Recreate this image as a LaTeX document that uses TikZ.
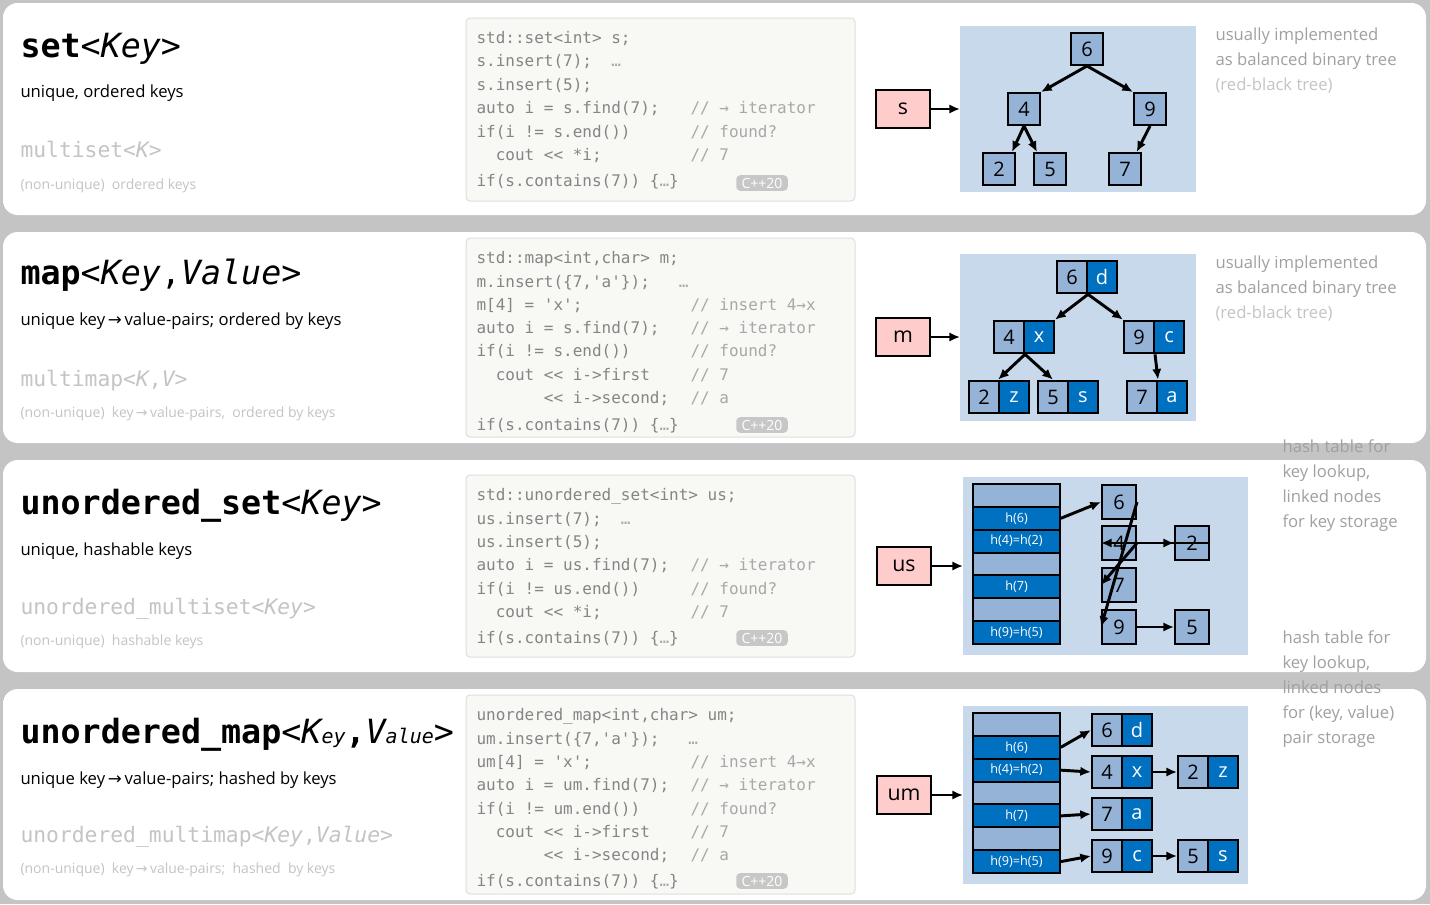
\documentclass[tikz,border=0pt]{standalone}
\usepackage{fontspec}
\setmainfont{Open Sans}
\setmonofont{DejaVu Sans Mono}
\newfontfamily\arrfont{DejaVu Sans}
\usetikzlibrary{positioning,arrows.meta}

\definecolor{pagegrey}{HTML}{C4C4C4}
\definecolor{codebg}{HTML}{F8F8F5}
\definecolor{codefg}{HTML}{858585}
\definecolor{cmtfg}{HTML}{A8A8A8}
\definecolor{treebg}{HTML}{C9D9EC}
\definecolor{keyfill}{HTML}{95B3D7}
\definecolor{valfill}{HTML}{0070C0}
\definecolor{ptrfill}{HTML}{FFCCCC}
\definecolor{notefg}{HTML}{A0A0A0}
\definecolor{faintfg}{HTML}{C4C4C4}

\newcommand\rarr{{\arrfont\char"2192}}

\tikzset{every picture/.style={line width=0.75pt}}
\tikzset{
  panel/.style={draw=none,fill=white,rounded corners=11pt},
  codebox/.style={draw=black!13,fill=codebg,rounded corners=3pt},
  code/.style={anchor=base west,inner sep=0pt,font=\ttfamily\fontsize{12}{14}\selectfont,text=codefg},
  cmt/.style={code,text=cmtfg},
  badge/.style={fill=black!22,text=white,rounded corners=3pt,inner xsep=4pt,inner ysep=2pt,font=\fontsize{10.5}{12}\selectfont},
  title/.style={anchor=base west,inner sep=0pt,font=\ttfamily\fontsize{25}{28}\selectfont},
  sub/.style={anchor=base west,inner sep=0pt,font=\fontsize{12.5}{15}\selectfont},
  multi/.style={anchor=base west,inner sep=0pt,text=faintfg,font=\ttfamily\fontsize{16}{18}\selectfont},
  nonu/.style={anchor=base west,inner sep=0pt,text=faintfg,font=\fontsize{10.5}{12}\selectfont},
  note/.style={anchor=base west,inner sep=0pt,align=left,text=notefg,font=\fontsize{12.5}{18.6}\selectfont},
  ptr/.style={draw,line width=1.5pt,fill=ptrfill,minimum width=40pt,minimum height=28.5pt,inner sep=0pt,font=\fontsize{16}{18}\selectfont},
  bg/.style={fill=treebg,draw=none},
  tnode/.style={draw,line width=1.5pt,fill=keyfill,minimum width=24pt,minimum height=24pt,inner sep=0pt,font=\fontsize{15}{17}\selectfont},
  hnode/.style={tnode,minimum width=25.5pt,minimum height=25.5pt},
  kbox/.style={tnode,minimum width=22.5pt,minimum height=24.5pt},
  vbox/.style={kbox,fill=valfill,text=white},
  bempty/.style={draw,line width=1.5pt,fill=keyfill,minimum width=65pt,minimum height=17.1pt,inner sep=0pt},
  bfull/.style={bempty,fill=valfill,text=white,font=\fontsize{9.5}{11}\selectfont},
  link/.style={line width=2.2pt,-{Latex[length=8pt,width=7pt]}},
}

% pair node: name, position, key, value
\newcommand\kvpair[4]{%
  \node[kbox] (#1) at (#2) {#3};
  \node[vbox,right=-1.5pt of #1] (#1v) {#4};}

% bucket column: prefix, top y
\newcommand\buckets[2]{%
  \foreach \lab/\sty [count=\i from 0] in {/bempty,h(6)/bfull,h(4)=h(2)/bfull,/bempty,h(7)/bfull,/bempty,h(9)=h(5)/bfull}
    \node[\sty] (#1\i) at (1016.5,{#2+11.43+22.86*\i}) {\lab};}

\begin{document}
\begin{tikzpicture}[x=0.75pt,y=0.75pt,yscale=-1,xscale=1]
\useasboundingbox (0,0) rectangle (1430,904);
\fill[pagegrey] (0,0) rectangle (1430,904);

%panels
\path[panel] (3,3) rectangle (1426,215);
\path[panel] (3,232) rectangle (1426,443);
\path[panel] (3,460) rectangle (1426,672);
\path[panel] (3,689) rectangle (1426,900);

%left texts
\node[title] (t1) at (20,57) {\bfseries set\mdseries<\itshape Key\upshape>};
\node[sub] (s1) at (20,97) {unique, ordered keys};
\node[multi] (m1) at (20,157) {multiset<\itshape K\upshape>};
\node[nonu] (n1) at (20,189) {(non-unique)~ ordered keys};

\node[title] (t2) at (20,284) {\bfseries map\mdseries<\itshape Key\upshape,\itshape Value\upshape>};
\node[sub] (s2) at (20,325) {unique key\,\rarr\,value-pairs; ordered by keys};
\node[multi] (m2) at (20,386) {multimap<\itshape K\upshape,\itshape V\upshape>};
\node[nonu] (n2) at (20,417) {(non-unique)~ key\,\rarr\,value-pairs,~ ordered by keys};

\node[title] (t3) at (20,514) {\bfseries unordered\_set\mdseries<\itshape Key\upshape>};
\node[sub] (s3) at (20,555) {unique, hashable keys};
\node[multi] (m3) at (20,614) {unordered\_multiset<\itshape Key\upshape>};
\node[nonu] (n3) at (20,645) {(non-unique)~ hashable keys};

\node[title] (t4) at (20,743) {\bfseries unordered\_map\mdseries<\itshape K{\fontsize{15}{17}\selectfont ey}\upshape\bfseries,\mdseries\itshape V{\fontsize{15}{17}\selectfont alue}\upshape>};
\node[sub] (s4) at (20,784) {unique key\,\rarr\,value-pairs; hashed by keys};
\node[multi] (m4) at (20,842) {unordered\_multimap<\itshape Key\upshape,\itshape Value\upshape>};
\node[nonu] (n4) at (20,873) {(non-unique)~ key\,\rarr\,value-pairs;~ hashed~ by keys};

%code boxes
\path[codebox] (466,18) rectangle (855,201);
\node[code] (c11) at (476,43) {std::set<int> s;};
\node[code] (c12) at (476,66) {s.insert(7);~~\textcolor{cmtfg}{…}};
\node[code] (c13) at (476,90) {s.insert(5);};
\node[code] (c14) at (476,113) {auto i = s.find(7);};
\node[code] (c15) at (476,137) {if(i != s.end())};
\node[code] (c16) at (476,160) {~~cout << *i;};
\node[code] (c17) at (476,186) {if(s.contains(7)) \{\textcolor{cmtfg}{…}\}};
\node[cmt] (k14) at (690,113) {// → iterator};
\node[cmt] (k15) at (690,137) {// found?};
\node[cmt] (k16) at (690,160) {// 7};
\node[badge] (b1) at (762,183) {C++20};

\path[codebox] (466,238) rectangle (855,437);
\node[code] (c21) at (476,263) {std::map<int,char> m;};
\node[code] (c22) at (476,287) {m.insert(\{7,'a'\});~~~\textcolor{cmtfg}{…}};
\node[code] (c23) at (476,310) {m[4] = 'x';};
\node[code] (c24) at (476,333) {auto i = s.find(7);};
\node[code] (c25) at (476,356) {if(i != s.end())};
\node[code] (c26) at (476,380) {~~cout << i->first};
\node[code] (c27) at (476,403) {~~~~~~~<< i->second;};
\node[code] (c28) at (476,430) {if(s.contains(7)) \{\textcolor{cmtfg}{…}\}};
\node[cmt] (k23) at (690,310) {// insert 4→x};
\node[cmt] (k24) at (690,333) {// → iterator};
\node[cmt] (k25) at (690,356) {// found?};
\node[cmt] (k26) at (690,380) {// 7};
\node[cmt] (k27) at (690,403) {// a};
\node[badge] (b2) at (762,425) {C++20};

\path[codebox] (466,475) rectangle (855,657);
\node[code] (c31) at (476,500) {std::unordered\_set<int> us;};
\node[code] (c32) at (476,524) {us.insert(7);~~\textcolor{cmtfg}{…}};
\node[code] (c33) at (476,547) {us.insert(5);};
\node[code] (c34) at (476,570) {auto i = us.find(7);};
\node[code] (c35) at (476,594) {if(i != us.end())};
\node[code] (c36) at (476,617) {~~cout << *i;};
\node[code] (c37) at (476,643) {if(s.contains(7)) \{\textcolor{cmtfg}{…}\}};
\node[cmt] (k34) at (690,570) {// → iterator};
\node[cmt] (k35) at (690,594) {// found?};
\node[cmt] (k36) at (690,617) {// 7};
\node[badge] (b3) at (762,638) {C++20};

\path[codebox] (466,695) rectangle (855,894);
\node[code] (c41) at (476,720) {unordered\_map<int,char> um;};
\node[code] (c42) at (476,744) {um.insert(\{7,'a'\});~~~\textcolor{cmtfg}{…}};
\node[code] (c43) at (476,767) {um[4] = 'x';};
\node[code] (c44) at (476,790) {auto i = um.find(7);};
\node[code] (c45) at (476,814) {if(i != um.end())};
\node[code] (c46) at (476,837) {~~cout << i->first};
\node[code] (c47) at (476,860) {~~~~~~~<< i->second;};
\node[code] (c48) at (476,886) {if(s.contains(7)) \{\textcolor{cmtfg}{…}\}};
\node[cmt] (k43) at (690,767) {// insert 4→x};
\node[cmt] (k44) at (690,790) {// → iterator};
\node[cmt] (k45) at (690,814) {// found?};
\node[cmt] (k46) at (690,837) {// 7};
\node[cmt] (k47) at (690,860) {// a};
\node[badge] (b4) at (762,881) {C++20};

%set tree
\path[bg] (960,26) rectangle (1196,192);
\coordinate (bg1) at (960,109);
\node[ptr] (ps) at (903,109) {s};
\node[tnode] (s6) at (1087,49) {6};
\node[tnode] (s4) at (1024,109) {4};
\node[tnode] (s9) at (1150,109) {9};
\node[tnode] (s2) at (999,169) {2};
\node[tnode] (s5) at (1050,169) {5};
\node[tnode] (s7) at (1125,169) {7};
\draw[link] (ps) -- (bg1);
\draw[link] (s6.south) -- (s4.north east);
\draw[link] (s6.south) -- (s9.north west);
\draw[link] (s4.south) -- ([xshift=-3pt]s2.north east);
\draw[link] (s4.south) -- ([xshift=3pt]s5.north west);
\draw[link] (s9.south) -- ([xshift=-4pt]s7.north east);

%map tree
\path[bg] (960,254) rectangle (1196,421);
\coordinate (bg2) at (960,337);
\node[ptr] (pm) at (903,337) {m};
\kvpair{m6}{1072,277}{6}{d}
\kvpair{m4}{1009,337}{4}{x}
\kvpair{m9}{1139,337}{9}{c}
\kvpair{m2}{984,397}{2}{z}
\kvpair{m5}{1053,397}{5}{s}
\kvpair{m7}{1142,397}{7}{a}
\draw[link] (pm) -- (bg2);
\draw[link] (m6.south east) -- (m4v.north east);
\draw[link] (m6.south east) -- (m9.north west);
\draw[link] (m4.south east) -- (m2v.north west);
\draw[link] (m4.south east) -- (m5.north);
\draw[link] (m9.south east) -- (m7.north east);

%hash set
\path[bg] (963,477) rectangle (1248,655);
\coordinate (bg3) at (963,566);
\node[ptr] (pus) at (904,566) {us};
\buckets{u}{484}
\node[hnode] (u6) at (1119,502) {6};
\node[hnode] (u4) at (1119,543) {4};
\node[hnode] (u2) at (1192,543) {2};
\node[hnode] (u7) at (1119,585) {7};
\node[hnode] (u9) at (1119,627) {9};
\node[hnode] (u5) at (1192,627) {5};
\draw[link] (pus) -- (bg3);
\draw[link] (u1.east) -- (u6.west);
\draw[link] (u2.east) -- (u4.west);
\draw[link] (u4) -- (u2);
\draw[link] (u4.east) -- (u7.west);
\draw[link] (u6.east) -- (u9.west);
\draw[link] (u9) -- (u5);

%hash map
\path[bg] (963,706) rectangle (1248,884);
\coordinate (bg4) at (963,795);
\node[ptr] (pum) at (904,795) {um};
\buckets{h}{713}
\kvpair{w6}{1107,730}{6}{d}
\kvpair{w4}{1107,772}{4}{x}
\kvpair{w2}{1193,772}{2}{z}
\kvpair{w7}{1107,814}{7}{a}
\kvpair{w9}{1107,856}{9}{c}
\kvpair{w5}{1193,856}{5}{s}
\draw[link] (pum) -- (bg4);
\draw[link] (h1.east) -- (w6.west);
\draw[link] (h2.east) -- (w4.west);
\draw[link] (w4v) -- (w2);
\draw[link] (h4.east) -- (w7.west);
\draw[link] (h6.east) -- (w9.west);
\draw[link] (w9v) -- (w5);

%notes
\node[note] (r1) at (1215,90) {usually implemented\\as balanced binary tree\\\textcolor{faintfg}{(red-black tree)}};
\node[note] (r2) at (1215,318) {usually implemented\\as balanced binary tree\\\textcolor{faintfg}{(red-black tree)}};
\node[note] (r3) at (1282,527) {hash table for\\key lookup,\\linked nodes\\for key storage};
\node[note] (r4) at (1282,743) {hash table for\\key lookup,\\linked nodes\\for (key, value)\\pair storage};
\end{tikzpicture}
\end{document}
